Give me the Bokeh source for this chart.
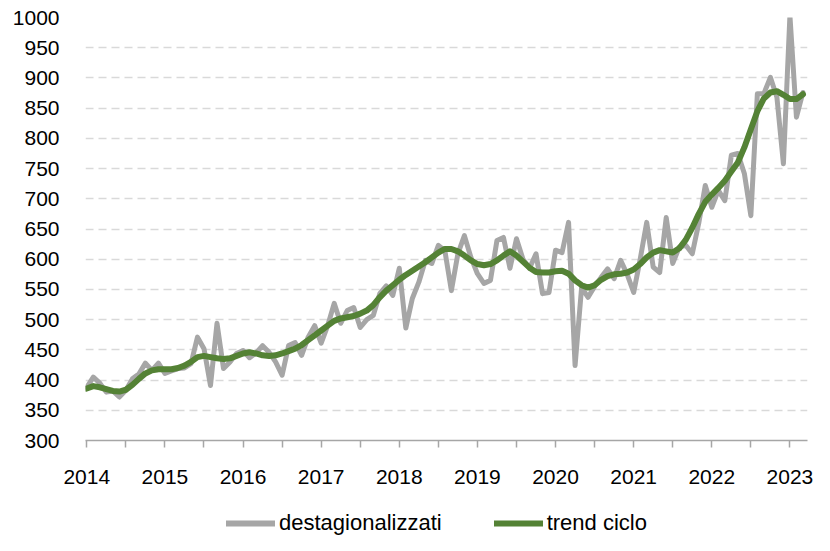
from bokeh.plotting import figure
from bokeh.layouts import column
from bokeh.models import FixedTicker, Legend, LegendItem, Range1d, ColumnDataSource
from bokeh.embed import file_html
from bokeh.resources import INLINE

# Monthly data, Jan 2014 .. Mar 2023
start_year = 2014
destagionalizzati = [
    388, 405, 395, 380, 382, 372, 383, 402, 410, 428, 416, 428,   # 2014
    411, 415, 419, 420, 427, 471, 452, 391, 494, 419, 430, 444,   # 2015
    449, 437, 445, 457, 446, 430, 408, 457, 462, 441, 471, 490,   # 2016
    461, 490, 527, 494, 515, 520, 487, 500, 507, 543, 556, 540,   # 2017
    585, 486, 535, 562, 598, 593, 623, 614, 548, 609, 639, 603,   # 2018
    576, 560, 565, 631, 636, 585, 634, 600, 585, 609, 543, 545,   # 2019
    615, 611, 661, 424, 553, 537, 555, 570, 584, 568, 598, 575,   # 2020
    545, 600, 661, 587, 578, 669, 593, 620, 623, 609, 660, 722,   # 2021
    686, 714, 697, 772, 775, 742, 672, 874, 874, 901, 868, 758,   # 2022
    1003, 835, 876,                                               # 2023
]
trend_ciclo = [
    386, 390, 388, 385, 382, 381, 384, 392, 402, 411, 416, 418,
    418, 418, 420, 424, 430, 438, 440, 438, 436, 435, 436, 440,
    444, 446, 444, 441, 440, 441, 444, 448, 452, 458, 466, 474,
    482, 490, 498, 502, 504, 506, 510, 515, 524, 537, 548, 557,
    566, 574, 581, 588, 595, 603, 611, 617, 617, 613, 606, 598,
    592, 590, 592, 598, 606, 613, 606, 596, 586, 579, 578, 578,
    580, 581, 576, 565, 557, 553, 557, 566, 572, 575, 576, 578,
    583, 592, 603, 611, 615, 613, 611, 618, 632, 652, 675, 695,
    707, 718, 730, 745, 760, 785, 815, 845, 866, 876, 878, 872,
    865, 865, 873,
]
year_labels = [str(y) for y in range(2014, 2024)]
y_ticks = list(range(300, 1001, 50))
series_names = ["destagionalizzati", "trend ciclo"]

months = list(range(len(destagionalizzati)))
src = ColumnDataSource(dict(x=months, grey=destagionalizzati, green=trend_ciclo))

FONT = "Liberation Sans"
GREY = "#A6A6A6"
GREEN = "#548235"

p = figure(width=827, height=498, min_border_left=85, min_border_right=20,
           min_border_top=17, min_border_bottom=58,
           output_backend="svg", toolbar_location=None,
           x_range=Range1d(-0.2, 110.7), y_range=Range1d(300, 1000))
p.outline_line_color = None
p.background_fill_color = "white"
p.border_fill_color = "white"

r1 = p.line("x", "grey", source=src, line_color=GREY, line_width=5, line_join="round", line_cap="round")
r2 = p.line("x", "green", source=src, line_color=GREEN, line_width=6, line_join="round", line_cap="round")

# axes
half_year_ticks = list(range(0, 111, 6))
p.xaxis.ticker = FixedTicker(ticks=half_year_ticks)
overrides = {}
for t in half_year_ticks:
    overrides[t] = year_labels[t // 12] if t % 12 == 0 else ""
p.xaxis.major_label_overrides = overrides
p.xaxis.axis_line_color = "#A6A6A6"
p.xaxis.axis_line_width = 1.5
p.xaxis.major_tick_line_color = "#A6A6A6"
p.xaxis.major_tick_line_width = 1.5
p.xaxis.major_tick_out = 7
p.xaxis.major_tick_in = 0
p.xaxis.minor_tick_line_color = None
p.xaxis.major_label_standoff = 22

p.yaxis.ticker = FixedTicker(ticks=y_ticks)
p.yaxis.axis_line_color = None
p.yaxis.major_tick_line_color = None
p.yaxis.minor_tick_line_color = None
p.yaxis.major_label_standoff = 20

for ax in (p.xaxis, p.yaxis):
    ax.major_label_text_font = FONT
    ax.major_label_text_font_size = "21px"
    ax.major_label_text_color = "#000000"

p.xgrid.grid_line_color = None
p.ygrid.ticker = FixedTicker(ticks=y_ticks[1:])
p.ygrid.grid_line_color = "#D9D9D9"
p.ygrid.grid_line_width = 1.5
p.ygrid.grid_line_dash = "8 5"

# legend strip below the chart (its renderers sit outside the visible range)
lg = figure(width=827, height=50, min_border=0, x_axis_type=None, y_axis_type=None,
            x_range=Range1d(0, 1), y_range=Range1d(0, 1),
            output_backend="svg", toolbar_location=None)
lg.outline_line_color = None
lg.xgrid.grid_line_color = None
lg.ygrid.grid_line_color = None
lr1 = lg.line([-10, -9], [-10, -10], line_color=GREY, line_width=6, line_cap="round")
lr2 = lg.line([-10, -9], [-10, -10], line_color=GREEN, line_width=6, line_cap="round")
legend = Legend(items=[LegendItem(label=series_names[0], renderers=[lr1]),
                       LegendItem(label=series_names[1], renderers=[lr2])],
                orientation="horizontal", location=(141, 12),
                label_text_font=FONT, label_text_font_size="22px", label_text_color="#000000",
                glyph_width=49, glyph_height=24, label_standoff=4, spacing=52,
                padding=0, margin=0, border_line_color=None, background_fill_alpha=0)
lg.add_layout(legend, "center")

layout = column(p, lg, spacing=0)
open("out.html", "w").write(file_html(layout, INLINE))
